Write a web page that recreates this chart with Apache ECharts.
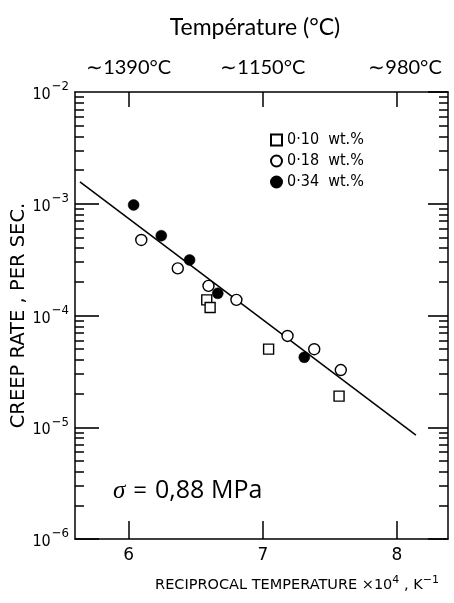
<!DOCTYPE html>
<html><head><meta charset="utf-8">
<script src="https://cdn.jsdelivr.net/npm/echarts@6/dist/echarts.min.js"></script>
<style>html,body{margin:0;padding:0;background:#fff}#c{width:454px;height:603px}</style>
</head><body><div id="c"></div>
<script>
// ---- data ----
const xRange = [5.6, 8.38];
const yRange = [1e-6, 1e-2];
const xTicks = [6, 7, 8];
const topLabels = ['∼1390°C', '∼1150°C', '∼980°C'];
const yDecades = [1e-6, 1e-5, 1e-4, 1e-3, 1e-2];
const yExponents = ['−6', '−5', '−4', '−3', '−2'];
const minorMultipliers = [2, 3, 4, 5, 6, 7, 8, 9];
const legendNames = ['0·10  wt.%', '0·18  wt.%', '0·34  wt.%'];
const s010 = [[6.582, 1.38e-4], [6.607, 1.18e-4], [7.043, 5.0e-5], [7.568, 1.9e-5]];
const s018 = [[6.094, 4.74e-4], [6.366, 2.64e-4], [6.595, 1.84e-4], [6.803, 1.38e-4], [7.184, 6.56e-5], [7.383, 4.99e-5], [7.581, 3.25e-5]];
const s034 = [[6.037, 9.75e-4], [6.243, 5.18e-4], [6.454, 3.14e-4], [6.664, 1.58e-4], [7.309, 4.23e-5]];
const fitLine = [[5.637, 1.57e-3], [8.141, 8.5e-6]];
const titleText = 'Température (°C)';
const stressValue = '0,88 MPa';

// ---- build ----
const minorVals = [];
yDecades.slice(0, 4).forEach(d => minorMultipliers.forEach(m => minorVals.push(m * d)));
const axFont = "'DejaVu Sans', sans-serif";
const condFont = "'DejaVu Sans Condensed', 'DejaVu Sans', sans-serif";
const topFont = "Lato, 'Open Sans', sans-serif";
const black = '#000';
const expOf = v => yExponents[Math.round(Math.log10(v)) + 6];
const tickStyle = w => ({color: black, width: w});

function logAxis(pos, opts) {
  return Object.assign({
    type: 'log', logBase: 10, min: yRange[0], max: yRange[1], position: pos,
    axisLine: {show: false}, axisLabel: {show: false}, splitLine: {show: false}
  }, opts);
}

const chart = echarts.init(document.getElementById('c'), null, {renderer: 'canvas'});
const option = {
  backgroundColor: '#fff',
  animation: false,
  grid: {left: 75, top: 92, right: 6, bottom: 64, containLabel: false, outerBoundsMode: 'none'},
  xAxis: [{
    type: 'value', min: xRange[0], max: xRange[1], position: 'bottom',
    axisLine: {show: true, lineStyle: tickStyle(1.5)},
    axisTick: {show: true, inside: true, length: 18, lineStyle: tickStyle(1.5), customValues: xTicks},
    axisLabel: {show: true, customValues: xTicks, color: black, fontSize: 17, fontFamily: axFont, margin: 8},
    splitLine: {show: false}
  }, {
    type: 'value', min: xRange[0], max: xRange[1], position: 'top',
    axisLine: {show: true, lineStyle: tickStyle(1.5)},
    axisTick: {show: true, inside: true, length: 15, lineStyle: tickStyle(1.5), customValues: xTicks},
    axisLabel: {show: true, customValues: xTicks, color: black, fontSize: 20, fontFamily: topFont, margin: 14,
      formatter: v => {
        const i = xTicks.indexOf(Math.round(v));
        return i === 2 ? '{r|' + topLabels[i] + '}' : (topLabels[i] || '');
      },
      rich: {r: {fontSize: 20, fontFamily: topFont, color: black, padding: [0, 0, 0, 16]}}},
    splitLine: {show: false}
  }],
  yAxis: [
    logAxis('left', {
      name: 'CREEP RATE , PER SEC.', nameLocation: 'middle', nameRotate: 90, nameGap: 46,
      nameMoveOverlap: false,
      nameTextStyle: {color: black, fontSize: 19.5, fontFamily: axFont},
      axisLine: {show: true, lineStyle: tickStyle(1.5)},
      axisTick: {show: true, inside: true, length: 24, customValues: yDecades, lineStyle: tickStyle(1.6)},
      axisLabel: {show: true, color: black, margin: 6, fontFamily: condFont,
        formatter: v => '{a|10}{b|' + expOf(v) + '}',
        rich: {a: {fontSize: 16, fontFamily: condFont, color: black, padding: [6, 0, 0, 0]},
               b: {fontSize: 13, fontFamily: condFont, color: black, padding: [0, 0, 10, 1]}}}
    }),
    logAxis('right', {
      axisLine: {show: true, lineStyle: tickStyle(1.5)},
      axisTick: {show: true, inside: true, length: 20, customValues: yDecades, lineStyle: tickStyle(1.6)}
    }),
    logAxis('left', {
      axisTick: {show: true, inside: true, length: 9, customValues: minorVals, lineStyle: tickStyle(1.5)}
    }),
    logAxis('right', {
      axisTick: {show: true, inside: true, length: 9, customValues: minorVals, lineStyle: tickStyle(1.5)}
    })
  ],
  legend: {
    orient: 'vertical', left: 265, top: 127, itemWidth: 11, itemHeight: 11, itemGap: 5,
    textStyle: {color: black, fontSize: 16, fontFamily: condFont},
    data: legendNames, selectedMode: false
  },
  series: [{
    name: legendNames[0], type: 'scatter', data: s010, symbol: 'rect', symbolSize: 10,
    itemStyle: {color: '#fff', borderColor: black, borderWidth: 1.4, opacity: 1}, z: 5
  }, {
    name: legendNames[1], type: 'scatter', data: s018, symbol: 'circle', symbolSize: 11,
    itemStyle: {color: '#fff', borderColor: black, borderWidth: 1.4, opacity: 1}, z: 5
  }, {
    name: legendNames[2], type: 'scatter', data: s034, symbol: 'circle', symbolSize: 11,
    itemStyle: {color: black, borderColor: black, borderWidth: 0.5, opacity: 1}, z: 5
  }, {
    name: 'fit', type: 'line', data: fitLine, symbol: 'none', silent: true,
    lineStyle: {color: black, width: 1.5}, z: 3
  }],
  graphic: [{
    type: 'text', x: 255, y: 28,
    style: {text: titleText, fill: black, font: "23px " + topFont, align: 'center', verticalAlign: 'middle'}
  }, {
    type: 'text', x: 297, y: 585,
    style: {text: 'RECIPROCAL TEMPERATURE ×10{s|4} , K{s|−1}', fill: black, font: "14.5px " + axFont,
      align: 'center', verticalAlign: 'middle',
      rich: {s: {fontSize: 11, fontFamily: axFont, fill: black, padding: [0, 0, 10, 0]}}}
  }, {
    type: 'text', x: 113, y: 491,
    style: {text: '{g|σ}{e|=}{t|' + stressValue + '}', align: 'left', verticalAlign: 'middle',
      rich: {g: {fontSize: 25, fontFamily: "'Liberation Serif', serif", fontStyle: 'italic', fill: black},
             e: {fontSize: 24, fontFamily: "'Open Sans', sans-serif", fill: black, padding: [0, 8, 0, 8]},
             t: {fontSize: 25, fontFamily: "'Open Sans', sans-serif", fill: black}}}
  }]
};
chart.setOption(option);
</script></body></html>
